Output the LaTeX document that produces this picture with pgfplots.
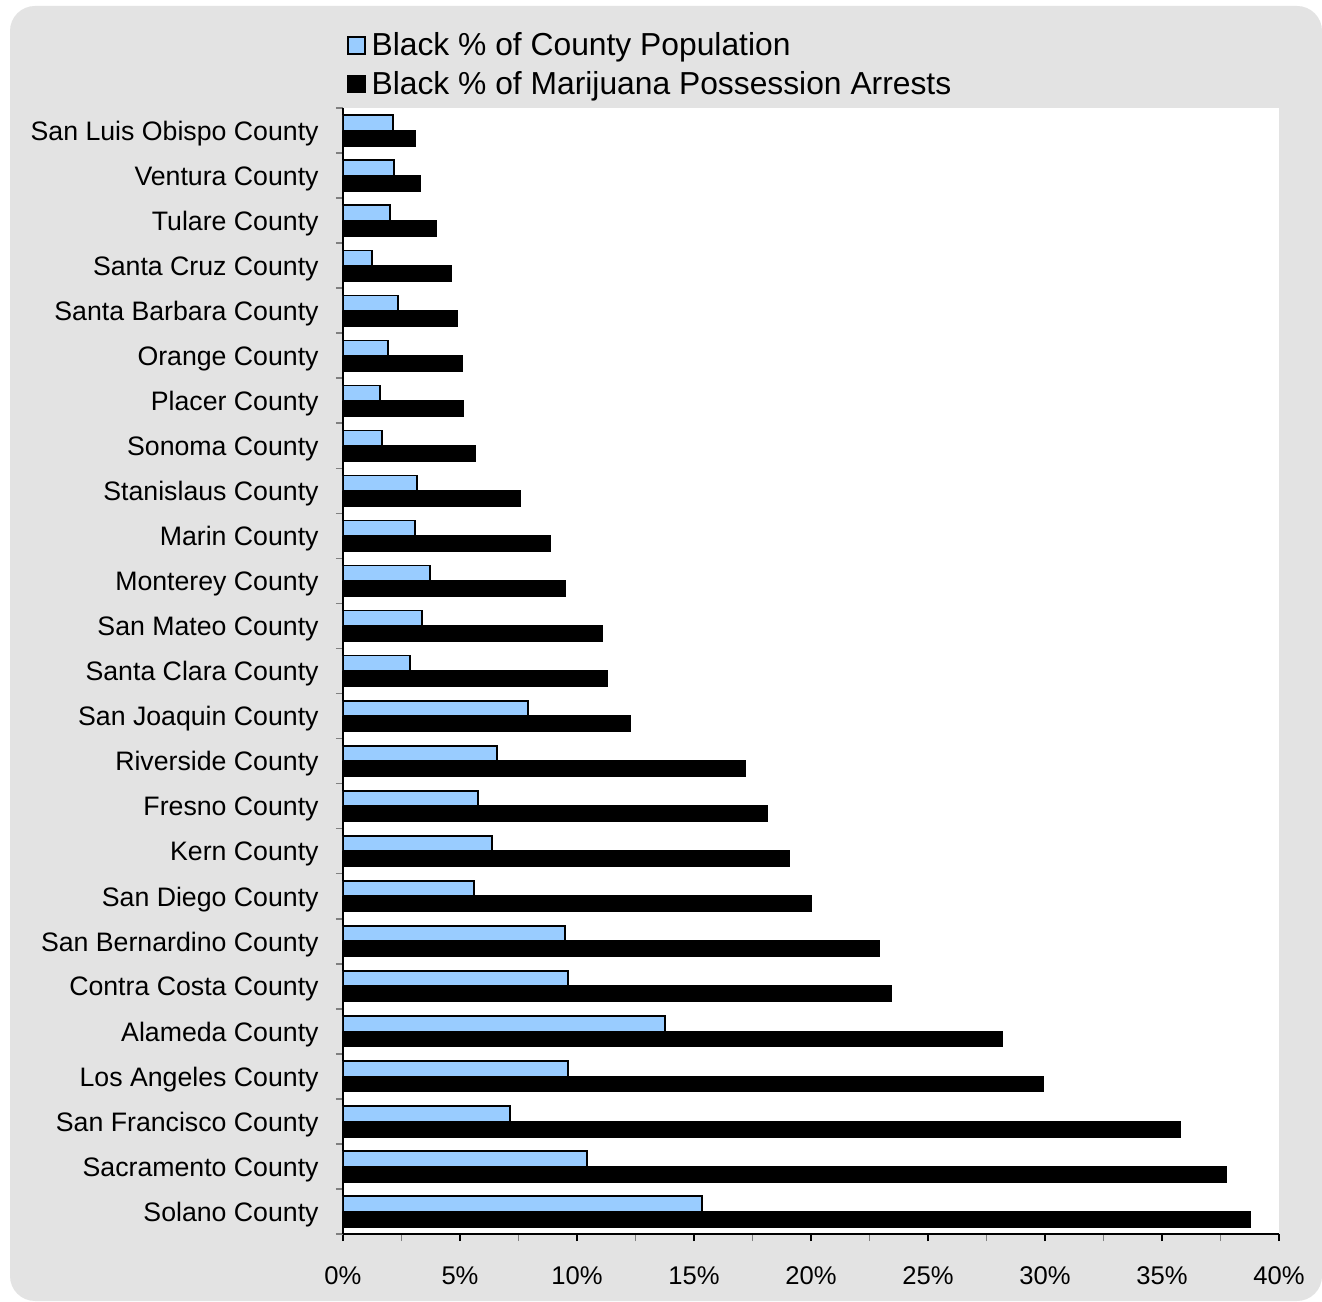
\documentclass[border=0pt]{standalone}
\usepackage{fontspec}
\setmainfont{Liberation Sans}
\usepackage{pgfplots}
\pgfplotsset{compat=1.18}
\definecolor{bgc}{HTML}{E3E3E3}
\definecolor{barblue}{HTML}{99CCFF}
\begin{document}
\begin{tikzpicture}
\fill[white] (0,0) rectangle (661pt,650.5pt);
\useasboundingbox (0,0) rectangle (661pt,650.5pt);
\fill[bgc, rounded corners=12.5pt] (5pt,0pt) rectangle (661pt,647.5pt);
\begin{axis}[
  at={(171.5pt,33.5pt)}, anchor=south west,
  scale only axis, width=468pt, height=563pt,
  xbar, y dir=reverse,
  xmin=0, xmax=40, ymin=-0.5, ymax=24.5,
  axis background/.style={fill=white},
  axis x line*=bottom, axis y line*=left,
  xtick pos=lower, ytick pos=left,
  tick align=outside,
  xtick={0,5,...,40},
  xticklabels={0\%,5\%,10\%,15\%,20\%,25\%,30\%,35\%,40\%},
  minor xtick={2.5,7.5,...,37.5},
  ytick={0,...,24},
  yticklabels={San Luis Obispo County,Ventura County,Tulare County,Santa Cruz County,Santa Barbara County,Orange County,Placer County,Sonoma County,Stanislaus County,Marin County,Monterey County,San Mateo County,Santa Clara County,San Joaquin County,Riverside County,Fresno County,Kern County,San Diego County,San Bernardino County,Contra Costa County,Alameda County,Los Angeles County,San Francisco County,Sacramento County,Solano County},
  minor ytick={-0.5,0.5,...,24.5},
  major tick length=3.5pt, minor tick length=3.5pt,
  y tick style={draw=none},
  minor y tick style={draw=gray, line width=0.8pt},
  major x tick style={draw=black, line width=0.6pt},
  minor x tick style={draw=gray, line width=0.6pt},
  axis line style={line width=0.7pt},
  yticklabel style={font=\fontsize{13.35}{15}\selectfont, inner sep=0pt, xshift=-8.5pt, yshift=-1.5pt},
  xticklabel style={font=\fontsize{12.8}{15}\selectfont, inner sep=0pt, yshift=-12.5pt},
  bar width=0.34,
  legend cell align=left,
  legend style={draw=none, fill=none, at={(0,1)}, anchor=south west, xshift=2pt, yshift=3.5pt,
    font=\fontsize{15.9}{19}\selectfont, row sep=2.5pt, column sep=1pt, inner sep=0pt,
    nodes={inner sep=1.8pt}},
  legend image code/.code={\draw[#1, line width=0.8pt] (0pt,-4.25pt) rectangle (8.5pt,4.25pt);},
]
\addplot[fill=barblue, draw=black, line width=0.8pt, bar shift=-0.17] coordinates {
(2.14,0) (2.18,1) (2.0,2) (1.24,3) (2.35,4) (1.92,5) (1.58,6) (1.67,7) (3.16,8) (3.08,9)
(3.72,10) (3.38,11) (2.86,12) (7.91,13) (6.58,14) (5.77,15) (6.37,16) (5.60,17) (9.49,18) (9.62,19)
(13.76,20) (9.62,21) (7.14,22) (10.43,23) (15.34,24)};
\addplot[fill=black, draw=black, line width=0.8pt, bar shift=0.17] coordinates {
(3.08,0) (3.29,1) (3.97,2) (4.62,3) (4.87,4) (5.09,5) (5.13,6) (5.64,7) (7.56,8) (8.85,9)
(9.49,10) (11.07,11) (11.28,12) (12.26,13) (17.18,14) (18.12,15) (19.06,16) (20.0,17) (22.9,18) (23.42,19)
(28.16,20) (29.91,21) (35.77,22) (37.74,23) (38.76,24)};
\legend{Black \% of County Population, Black \% of Marijuana Possession Arrests}
\end{axis}
\end{tikzpicture}
\end{document}
